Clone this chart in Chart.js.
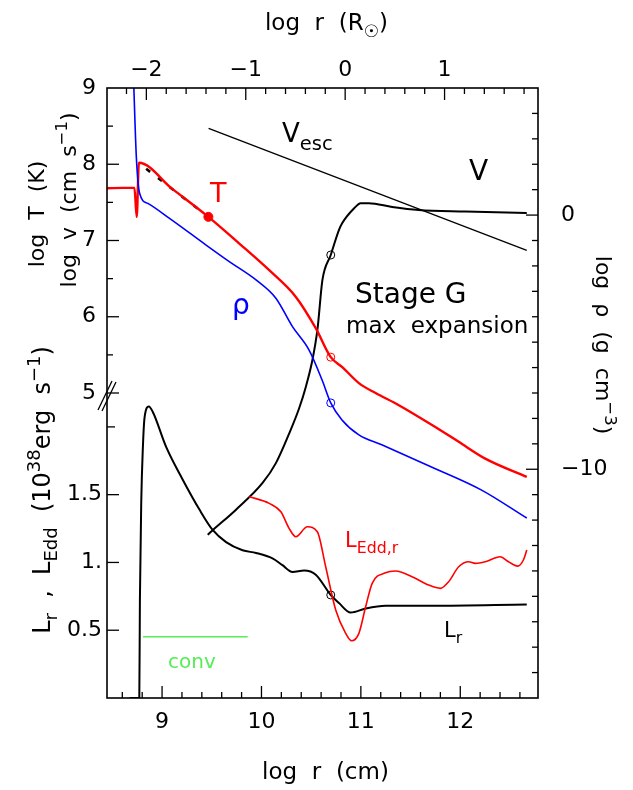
<!DOCTYPE html>
<html>
<head>
<meta charset="utf-8">
<script src="https://cdn.jsdelivr.net/npm/chart.js@4.4.1/dist/chart.umd.min.js"></script>
<style>
  body { margin: 0; background: #fff; }
  canvas { display: block; }
</style>
</head>
<body>
<canvas id="profileChart" width="633" height="790"></canvas>
<script>
// log r (cm) range of the plot, and the offset to log r (Rsun)
const xMin = 8.446
const xMax = 12.782
const logRsun = 10.842

// log T (K)
const tempLogR = [8.446, 8.60, 8.70, 8.722, 8.745, 8.767, 9.10, 9.466, 9.777, 10.078, 10.346, 10.546, 10.697, 10.813, 10.98, 11.148, 11.382, 11.716, 11.984, 12.251, 12.669]
const tempLog = [7.685, 7.69, 7.69, 7.69, 7.31, 8.02, 7.68, 7.31, 6.96, 6.61, 6.26, 5.85, 5.47, 5.34, 5.13, 5.00, 4.84, 4.58, 4.36, 4.14, 3.90]

// dashed fit over the T profile
const fitLogR = [8.84, 9.45]
const fitLog = [7.94, 7.325]

// log rho (g cm^-3)
const rhoLogR = [8.712, 8.741, 8.774, 8.857, 9.075, 9.443, 9.676, 9.945, 10.145, 10.312, 10.479, 10.61, 10.697, 10.81, 10.98, 11.21, 11.71, 12.21, 12.669]
const rhoLog = [5.5, 2.30, 0.86, 0.46, -0.13, -1.18, -1.83, -2.55, -3.27, -4.39, -5.31, -6.49, -7.39, -8.06, -8.65, -9.04, -9.91, -10.81, -11.92]

// log v (cm s^-1)
const velLogR = [9.459, 9.509, 9.744, 10.011, 10.145, 10.279, 10.379, 10.446, 10.512, 10.563, 10.613, 10.697, 10.78, 10.813, 10.93, 10.998, 11.081, 11.315, 11.582, 12.051, 12.669]
const velLog = [3.14, 3.20, 3.47, 3.82, 4.08, 4.47, 4.80, 5.08, 5.43, 5.83, 6.48, 6.81, 7.14, 7.23, 7.42, 7.49, 7.49, 7.44, 7.40, 7.38, 7.36]

// escape velocity
const vescLogR = [9.468, 12.669]
const vescLog = [8.47, 6.87]

// L_r (1e38 erg/s)
const lumLogR = [8.674, 8.771, 8.777, 8.791, 8.807, 8.824, 8.867, 8.907, 9.042, 9.208, 9.376, 9.509, 9.644, 9.81, 9.945, 10.111, 10.211, 10.312, 10.429, 10.546, 10.697, 10.78, 10.897, 11.048, 11.248, 11.716, 12.669]
const lumVal = [0, 0, 0.72, 1.46, 1.85, 2.07, 2.15, 2.11, 1.85, 1.61, 1.39, 1.24, 1.15, 1.09, 1.07, 1.03, 0.98, 0.93, 0.94, 0.91, 0.76, 0.70, 0.63, 0.66, 0.68, 0.68, 0.69]

// L_Edd,r (1e38 erg/s)
const eddLogR = [9.877, 10.078, 10.195, 10.279, 10.346, 10.462, 10.562, 10.646, 10.747, 10.847, 10.907, 10.98, 11.048, 11.114, 11.248, 11.349, 11.515, 11.683, 11.8, 11.883, 11.984, 12.084, 12.151, 12.251, 12.402, 12.485, 12.578, 12.635, 12.669]
const eddVal = [1.485, 1.436, 1.374, 1.25, 1.19, 1.263, 1.226, 0.968, 0.649, 0.477, 0.422, 0.477, 0.673, 0.846, 0.924, 0.937, 0.895, 0.833, 0.809, 0.858, 0.968, 1.005, 0.993, 1.005, 1.042, 1.005, 0.973, 1.018, 1.091]

// convective zone
const convLogR = [8.807, 9.861]
const convVal = [0.452, 0.452]

// marked zone (open circles) and the fit end point
const markLogR = 10.697
const markVel = 6.81
const markTemp = 5.47
const markRho = -7.39
const markLum = 0.76
const dotLogR = 9.466
const dotTemp = 7.31

// ticks
const xMajor = [9, 10, 11, 12]
const topMajor = [-2, -1, 0, 1]
const tempMajor = [5, 6, 7, 8, 9]
const lumMajor = [0.5, 1, 1.5]
const lumLabels = ['0.5', '1.', '1.5']
const lumMinor = [2]
const rhoMajor = [0, -10]

function pts(xs, ys) {
    return xs.map((x, i) => ({x: x, y: ys[i]}))
}

const FONT = "'DejaVu Sans', 'Liberation Sans', sans-serif"

// draw text made of normal / super (1) / sub (-1) pieces
function rich(ctx, parts, x, y, size, color, align, rot) {
    ctx.save()
    ctx.translate(x, y)
    if (rot) ctx.rotate(rot)
    ctx.fillStyle = color
    ctx.textBaseline = 'alphabetic'
    ctx.textAlign = 'left'
    let w = 0
    for (const p of parts) {
        ctx.font = (p[1] ? size * 0.75 : size) + 'px ' + FONT
        w += ctx.measureText(p[0]).width
    }
    let cx = align === 'center' ? -w / 2 : (align === 'right' ? -w : 0)
    for (const p of parts) {
        ctx.font = (p[1] ? size * 0.75 : size) + 'px ' + FONT
        let dy = p[1] === 1 ? -size * 0.42 : (p[1] === -1 ? size * 0.3 : 0)
        ctx.fillText(p[0], cx, dy)
        cx += ctx.measureText(p[0]).width
    }
    ctx.restore()
}

const framePlugin = {
    id: 'frameAxes',
    afterDatasetsDraw(chart) {
        const ctx = chart.ctx
        const a = chart.chartArea
        const sx = chart.scales.x
        const st = chart.scales.xTop
        const yT = chart.scales.yT
        const yL = chart.scales.yL
        const yR = chart.scales.yRho
        ctx.save()
        ctx.strokeStyle = '#000'
        ctx.lineWidth = 1.6
        ctx.strokeRect(a.left, a.top, a.right - a.left, a.bottom - a.top)
        ctx.lineWidth = 1.3

        function tick(x1, y1, x2, y2) {
            ctx.beginPath()
            ctx.moveTo(x1, y1)
            ctx.lineTo(x2, y2)
            ctx.stroke()
        }
        // bottom, every 0.2 dex
        for (let i = 43; i <= 63; i++) {
            let v = i / 5
            if (v <= xMin || v >= xMax) continue
            let px = sx.getPixelForValue(v)
            tick(px, a.bottom, px, a.bottom - (i % 5 === 0 ? 12 : 6))
        }
        // top, every 0.2 dex of Rsun
        for (let i = -11; i <= 9; i++) {
            let v = i / 5
            let px = st.getPixelForValue(v)
            if (px <= a.left || px >= a.right) continue
            tick(px, a.top, px, a.top + (i % 5 === 0 ? 12 : 6))
        }
        // left, upper part (log T)
        for (let i = 10; i < 18; i++) {
            let py = yT.getPixelForValue(i / 2)
            tick(a.left, py, a.left + (i % 2 === 0 ? 12 : 6), py)
        }
        // left, lower part (L)
        for (const v of lumMajor) {
            let py = yL.getPixelForValue(v)
            tick(a.left, py, a.left + 12, py)
        }
        for (const v of lumMinor) {
            let py = yL.getPixelForValue(v)
            tick(a.left, py, a.left + 8, py)
        }
        // right (log rho)
        for (let v = -18; v <= 4; v++) {
            let py = yR.getPixelForValue(v)
            tick(a.right, py, a.right - (v % 10 === 0 ? 12 : 6), py)
        }
        // axis break
        ctx.lineWidth = 1.3
        tick(a.left - 9, yT.getPixelForValue(5) + 17, a.left + 5, yT.getPixelForValue(5) - 12)
        tick(a.left - 5, yT.getPixelForValue(5) + 18, a.left + 9, yT.getPixelForValue(5) - 11)

        // tick labels
        ctx.fillStyle = '#000'
        ctx.font = '22px ' + FONT
        ctx.textBaseline = 'middle'
        ctx.textAlign = 'center'
        for (const v of xMajor) ctx.fillText(String(v), sx.getPixelForValue(v), a.bottom + 24)
        for (const v of topMajor) ctx.fillText(v < 0 ? '\u2212' + (-v) : String(v), st.getPixelForValue(v), a.top - 18)
        ctx.textAlign = 'right'
        for (const v of tempMajor) ctx.fillText(String(v), a.left - 11, yT.getPixelForValue(v))
        lumMajor.forEach((v, i) => ctx.fillText(lumLabels[i], a.left - 5, yL.getPixelForValue(v)))
        ctx.textAlign = 'left'
        for (const v of rhoMajor) ctx.fillText(v < 0 ? '\u2212' + (-v) : String(v), a.right + 23, yR.getPixelForValue(v))

        // axis titles
        rich(ctx, [['log  r  (cm)', 0]], (a.left + a.right) / 2 + 3, 779, 23, '#000', 'center')
        rich(ctx, [['log  r  (R', 0], ['\u2609', -1], [')', 0]], (a.left + a.right) / 2 + 4, 30, 23, '#000', 'center')
        rich(ctx, [['log  T  (K)', 0]], 44, 214, 22, '#000', 'center', -Math.PI / 2)
        rich(ctx, [['log  v  (cm  s', 0], ['\u22121', 1], [')', 0]], 76, 200, 22, '#000', 'center', -Math.PI / 2)
        rich(ctx, [['L', 0], ['r', -1], ['  ,  L', 0], ['Edd', -1], ['  (10', 0], ['38', 1], ['erg  s', 0], ['\u22121', 1], [')', 0]], 50, 490, 24, '#000', 'center', -Math.PI / 2)
        rich(ctx, [['log  \u03c1  (g  cm', 0], ['\u22123', 1], [')', 0]], 596, 345, 22, '#000', 'center', Math.PI / 2)

        // labels inside the plot
        rich(ctx, [['V', 0], ['esc', -1]], 282, 142, 26, '#000', 'left')
        rich(ctx, [['V', 0]], 469, 180, 28, '#000', 'left')
        rich(ctx, [['T', 0]], 210, 202, 27, '#ff0000', 'left')
        rich(ctx, [['\u03c1', 0]], 232, 314, 28, '#0000ff', 'left')
        rich(ctx, [['Stage G', 0]], 355, 303, 28, '#000', 'left')
        rich(ctx, [['max  expansion', 0]], 346, 333, 23, '#000', 'left')
        rich(ctx, [['L', 0], ['Edd,r', -1]], 345, 547, 21, '#ff0000', 'left')
        rich(ctx, [['L', 0], ['r', -1]], 444, 637, 21, '#000', 'left')
        rich(ctx, [['conv', 0]], 168, 668, 20, '#55ee55', 'left')
        ctx.restore()
    }
}

const lineStyle = {showLine: true, pointRadius: 0, fill: false, cubicInterpolationMode: 'monotone'}

const data = {
    datasets: [
        Object.assign({label: 'Vesc', data: pts(vescLogR, vescLog), yAxisID: 'yT', borderColor: '#000', borderWidth: 1.3}, lineStyle),
        Object.assign({label: 'conv', data: pts(convLogR, convVal), yAxisID: 'yL', borderColor: '#55ee55', borderWidth: 1.5}, lineStyle),
        Object.assign({label: 'L_Edd,r', data: pts(eddLogR, eddVal), yAxisID: 'yL', borderColor: '#ff0000', borderWidth: 1.6}, lineStyle),
        Object.assign({label: 'L_r', data: pts(lumLogR, lumVal), yAxisID: 'yL', borderColor: '#000', borderWidth: 2}, lineStyle),
        Object.assign({label: 'rho', data: pts(rhoLogR, rhoLog), yAxisID: 'yRho', borderColor: '#0000ff', borderWidth: 1.6}, lineStyle),
        Object.assign({label: 'T', data: pts(tempLogR, tempLog), yAxisID: 'yT', borderColor: '#ff0000', borderWidth: 2.4}, lineStyle),
        Object.assign({label: 'fit', data: pts(fitLogR, fitLog), yAxisID: 'yT', borderColor: '#000', borderWidth: 2.6, borderDash: [5, 10]}, lineStyle),
        Object.assign({label: 'V', data: pts(velLogR, velLog), yAxisID: 'yT', borderColor: '#000', borderWidth: 2}, lineStyle),
        {label: 'dot', data: [{x: dotLogR, y: dotTemp}], yAxisID: 'yT', pointRadius: 4.5, backgroundColor: '#ff0000', borderColor: '#ff0000', borderWidth: 1},
        {label: 'markV', data: [{x: markLogR, y: markVel}], yAxisID: 'yT', pointRadius: 4, backgroundColor: 'rgba(0,0,0,0)', borderColor: '#000', borderWidth: 1},
        {label: 'markT', data: [{x: markLogR, y: markTemp}], yAxisID: 'yT', pointRadius: 4, backgroundColor: 'rgba(0,0,0,0)', borderColor: '#ff0000', borderWidth: 1},
        {label: 'markRho', data: [{x: markLogR, y: markRho}], yAxisID: 'yRho', pointRadius: 4, backgroundColor: 'rgba(0,0,0,0)', borderColor: '#0000ff', borderWidth: 1},
        {label: 'markL', data: [{x: markLogR, y: markLum}], yAxisID: 'yL', pointRadius: 4, backgroundColor: 'rgba(0,0,0,0)', borderColor: '#000', borderWidth: 1}
    ]
}

const config = {
    type: 'scatter',
    data,
    options: {
        responsive: false,
        animation: false,
        layout: {padding: {left: 107, top: 88, right: 95, bottom: 92}},
        plugins: {legend: {display: false}, tooltip: {enabled: false}},
        scales: {
            x: {type: 'linear', min: xMin, max: xMax, display: false},
            xTop: {type: 'linear', position: 'top', min: xMin - logRsun, max: xMax - logRsun, display: false},
            yT: {type: 'linear', position: 'left', min: 1, max: 9, display: false},
            yL: {type: 'linear', position: 'left', min: 0, max: 4.5, display: false},
            yRho: {type: 'linear', position: 'right', min: -19, max: 5, display: false}
        }
    },
    plugins: [framePlugin]
}

const myChart = new Chart(document.getElementById('profileChart'), config)
</script>
</body>
</html>
